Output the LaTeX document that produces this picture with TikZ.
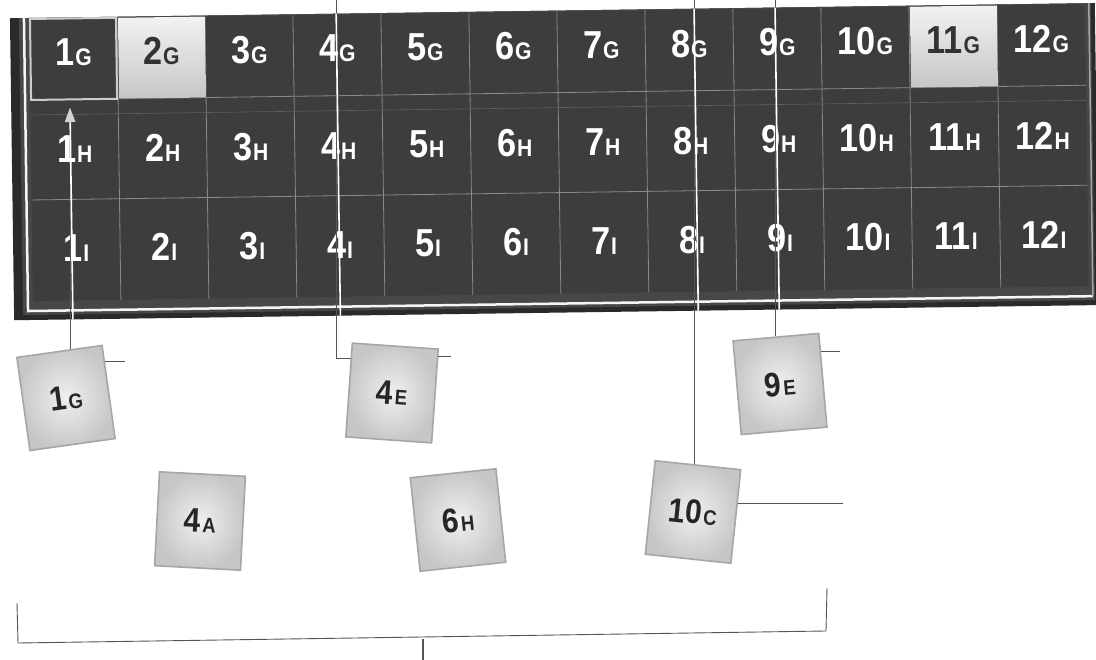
\documentclass[tikz,border=0pt]{standalone}
\usepackage{fontspec}
\setmainfont{Liberation Sans}[FakeStretch=0.88]
\usetikzlibrary{arrows.meta,calc}
\definecolor{cellbg}{HTML}{3D3D3D}
\definecolor{framebg}{HTML}{2A2A2A}
\definecolor{bandbg}{HTML}{474747}
\definecolor{gridln}{HTML}{8A8A8A}
\definecolor{wire}{HTML}{555555}
\newcommand\celltxt[2]{{\fontsize{39}{39}\selectfont\bfseries #1}\kern1pt{\fontsize{24}{24}\selectfont\bfseries #2}}
\newcommand\tiletxt[2]{{\fontsize{34}{34}\selectfont\bfseries #1}\kern2pt{\fontsize{21}{21}\selectfont\bfseries #2}}
\begin{document}
\begin{tikzpicture}[x=1pt,y=-1pt,
  gridtf/.style={shift={(29,22)},rotate=0.8},
  celllabel/.style={text=white,inner sep=0pt},
  litlabel/.style={text=black!80,inner sep=0pt},
  litcell/.style={top color=gray!10,bottom color=gray!45},
  tile/.style={minimum width=86pt,minimum height=94pt,inner sep=0pt,
    inner color=gray!12,outer color=gray!45,draw=gray!70,line width=1.6pt,text=black!85},
  wireline/.style={draw=wire,line width=1pt},
  wirelit/.style={draw=white,line width=1.6pt},
  tipped/.style={-{Triangle[width=10pt,length=14pt,color=gray!35]}},
  grline/.style={draw=gridln,line width=0.8pt}
]
\useasboundingbox (0,0) rectangle (1096,660);

% ---------- grid panel ----------
\begin{scope}[gridtf]
  \fill[framebg] (-19,-4) rectangle (1066,298);
  \fill[bandbg] (-10,-4) rectangle (1062,293);
  \draw[white!92!gray,line width=2.5pt] (-5,-4) -- (-5,289) -- (1060,289);
  \draw[gray!70,line width=1.5pt] (1060,289) -- (1060,-4);
  \fill[cellbg] (0,-3) rectangle (1056,279);
  \foreach \i in {1,...,11} \draw[grline] (88*\i,-3) -- (88*\i,279);
  \draw[grline] (0,78) -- (1056,78);
  \draw[grline] (0,178) -- (1056,178);
  \draw[gridln!45!cellbg,line width=0.6pt] (0,93) -- (1056,93);
  \fill[litcell] (89,-3) rectangle (176,78);
  \fill[litcell] (881,-3) rectangle (968,78);
  \draw[gray!40,line width=2pt] (1,-3) rectangle (87,78);
  \foreach \n in {1,3,4,5,6,7,8,9,10,12}
    \node[celllabel] (cG\n) at (88*\n-44,31) {\celltxt{\n}{G}};
  \node[litlabel] (cG2) at (132,31) {\celltxt{2}{G}};
  \node[litlabel] (cG11) at (924,31) {\celltxt{11}{G}};
  \foreach \n in {1,...,12}{
    \node[celllabel] (cH\n) at (88*\n-44,128) {\celltxt{\n}{H}};
    \node[celllabel] (cI\n) at (88*\n-44,227) {\celltxt{\n}{I}};
  }
\end{scope}

% ---------- tiles ----------
\node[tile,rotate=8]  (t1g)  at (66,398)  {\tiletxt{1}{G}};
\node[tile,rotate=-4] (t4e)  at (392,393) {\tiletxt{4}{E}};
\node[tile,rotate=-3] (t4a)  at (200,521) {\tiletxt{4}{A}};
\node[tile,rotate=6]  (t6h)  at (458,520) {\tiletxt{6}{H}};
\node[tile,rotate=5]  (t9e)  at (780,384) {\tiletxt{9}{E}};
\node[tile,rotate=-6] (t10c) at (693,512) {\tiletxt{10}{C}};

% ---------- connector end points ----------
\coordinate (a1tip) at (70,108);
\coordinate (l4top) at (336,0);
\coordinate (l10top) at (694,0);
\coordinate (l9top) at (775,0);
\coordinate (s1end) at (125,0);
\coordinate (s4end) at (451,0);
\coordinate (s9end) at (840,0);
\coordinate (s10end) at (843,0);
\coordinate (a1bot) at ($(t1g.north west)!0.62!(t1g.north east)$);
\coordinate (b1g) at ($(t1g.north east)!0.18!(t1g.south east)$);
\coordinate (a4e) at ($(t4e.north west)!0.17!(t4e.south west)$);
\coordinate (b4e) at ($(t4e.north east)!0.08!(t4e.south east)$);
\coordinate (a9e) at ($(t9e.north west)!0.49!(t9e.north east)$);
\coordinate (b9e) at ($(t9e.north east)!0.2!(t9e.south east)$);
\coordinate (a10c) at ($(t10c.north west)!0.45!(t10c.north east)$);
\coordinate (b10c) at ($(t10c.north east)!0.36!(t10c.south east)$);

% ---------- connectors (grey everywhere) ----------
\draw[wireline,tipped] (a1tip |- a1bot) -- (a1tip);
\draw[wireline] (b1g) -- (b1g -| s1end);
\draw[wireline] (l4top) |- (a4e);
\draw[wireline] (b4e) -- (b4e -| s4end);
\draw[wireline] (l9top) -- (l9top |- a9e);
\draw[wireline] (b9e) -- (b9e -| s9end);
\draw[wireline] (l10top) -- (l10top |- a10c);
\draw[wireline] (b10c) -- (b10c -| s10end);

% ---------- connectors (white over the dark panel) ----------
\begin{scope}[gridtf]
  \clip (-19,-4) rectangle (1066,298);
  \draw[wirelit,tipped] (a1tip |- a1bot) -- (a1tip);
  \draw[wirelit] (l4top) |- (a4e);
  \draw[wirelit] (l9top) -- (l9top |- a9e);
  \draw[wirelit] (l10top) -- (l10top |- a10c);
\end{scope}

% ---------- bracket ----------
\coordinate (bl) at (17,603);
\coordinate (blc) at (18,643);
\coordinate (brc) at (826,631);
\coordinate (br) at (827,588);
\coordinate (bm) at (423,639);
\coordinate (bmb) at (423,660);
\draw[wireline,line width=0.9pt] (bl) -- (blc) -- (brc) -- (br);
\draw[wireline,line width=1.2pt] (bm) -- (bmb);
\end{tikzpicture}
\end{document}
